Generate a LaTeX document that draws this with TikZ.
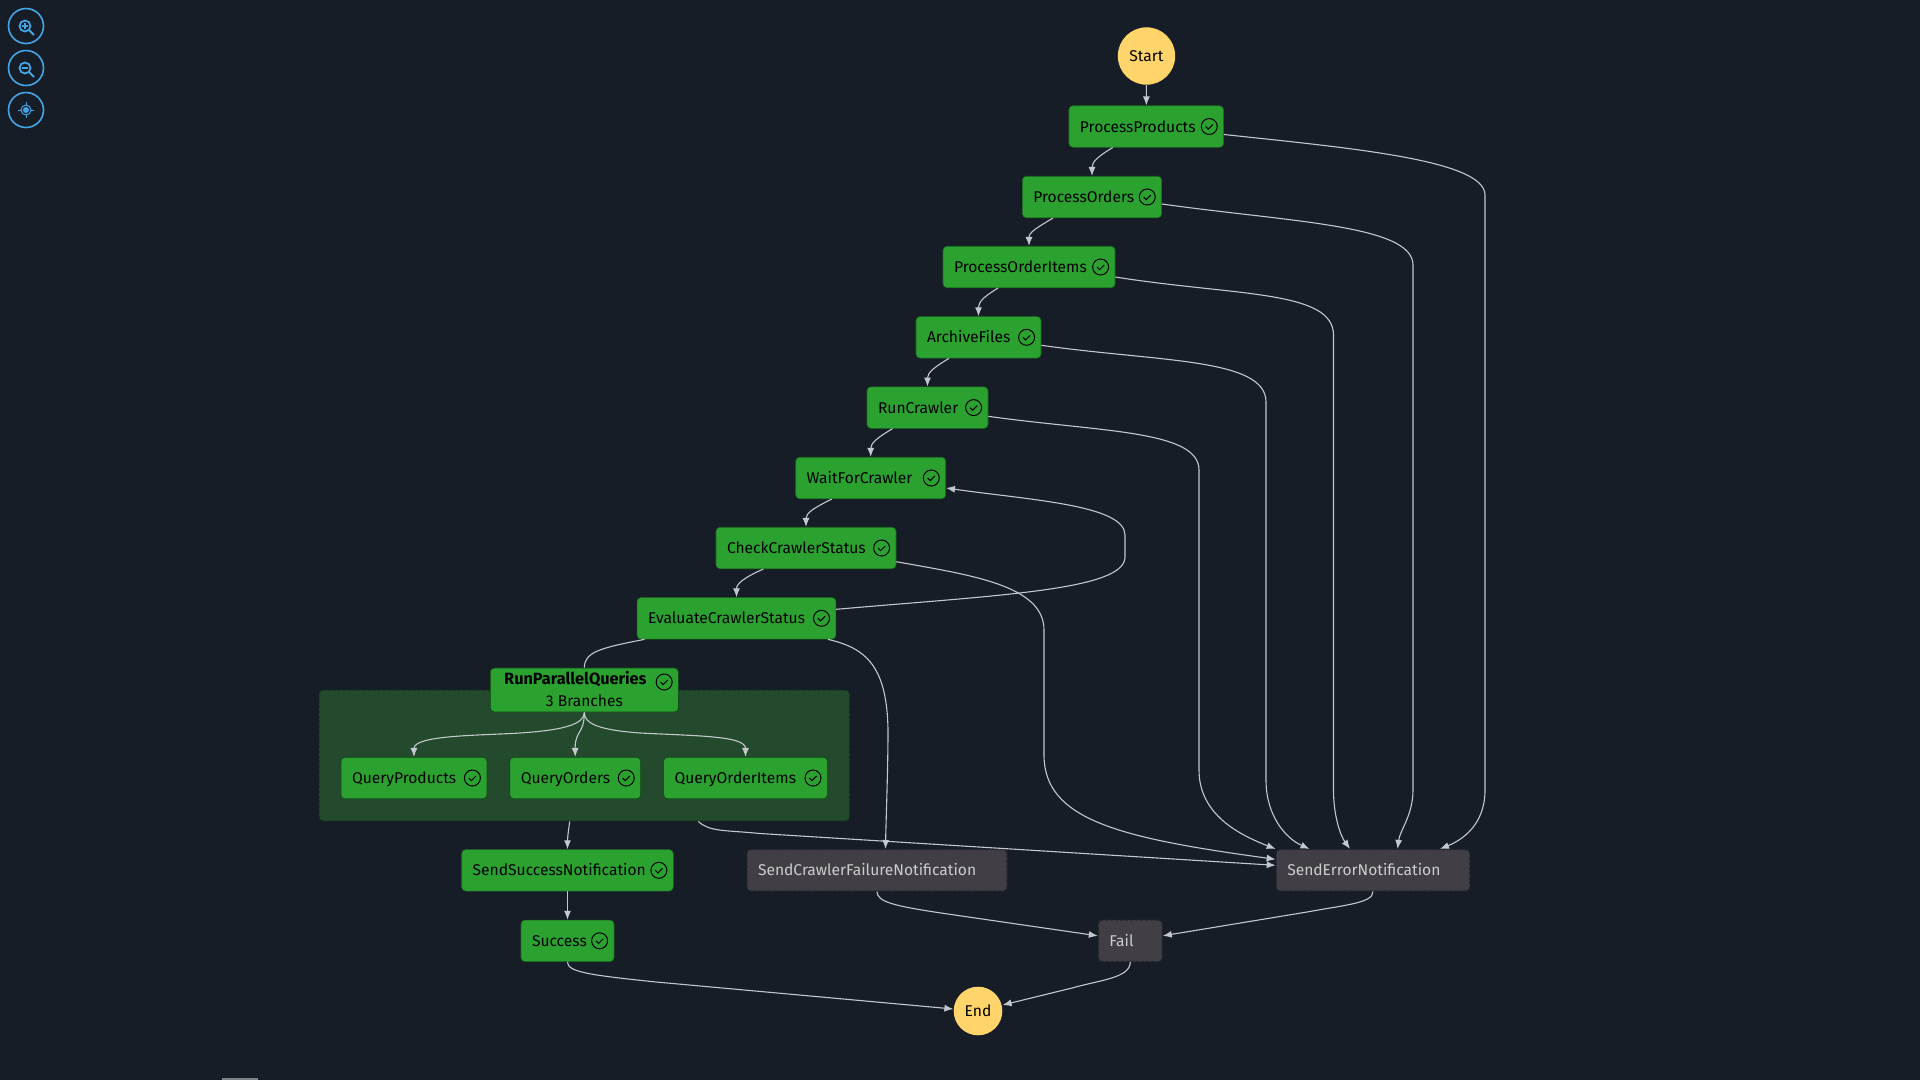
\documentclass[tikz,border=0pt]{standalone}
\usepackage{fontspec}
\setmainfont{Fira Sans}
\usepackage{xcolor}
\usetikzlibrary{arrows.meta,calc}
\definecolor{canvasbg}{HTML}{161D26}
\definecolor{okgreen}{HTML}{2BA12F}
\definecolor{okedge}{HTML}{1B6B22}
\definecolor{groupgreen}{HTML}{234A2C}
\definecolor{idlegrey}{HTML}{413F45}
\definecolor{startyellow}{HTML}{FFD56B}
\definecolor{linkgrey}{HTML}{C4C8CE}
\definecolor{toolblue}{HTML}{44A6E8}
\tikzset{
	statetext/.style={font=\fontsize{15.6}{20}\selectfont,text height=13pt,text depth=2pt},
	okstate/.style={statetext,rectangle,rounded corners=4pt,fill=okgreen,draw=okedge,line width=.6pt,text=black,
		minimum width=#1pt,minimum height=41.5pt,inner xsep=0pt,text width=#1pt-22pt,align=left,
		path picture={
			\draw[sharp corners,black,line width=1pt] ([xshift=-14.4pt]path picture bounding box.east) circle (8pt);
			\draw[sharp corners,black,line width=1pt] ([xshift=-18pt]path picture bounding box.east) -- ++(2.6,2.6) -- ++(4.6,-4.6);
		}},
	idlestate/.style={statetext,rectangle,rounded corners=4pt,fill=idlegrey,draw=canvasbg!70!idlegrey,dash pattern=on 3pt off 2pt,line width=1.2pt,text=white!80!black,
		minimum width=#1pt,minimum height=41.5pt,inner xsep=0pt,text width=#1pt-22pt,align=left},
	endpoint/.style={statetext,circle,fill=startyellow,text=black,inner sep=0pt,minimum size=#1pt},
	toolbtn/.style={circle,draw=toolblue,line width=1.6pt,minimum size=35pt,inner sep=0pt},
	toolmark/.style={draw=toolblue,line width=1.8pt}
}
\begin{document}
\begin{tikzpicture}[x=1pt,y=-1pt,>={Latex[length=9pt,width=7pt]},semithick,link/.style={draw=linkgrey,line width=1.1pt}]
	\fill[canvasbg] (0,0) rectangle (1920,1080);
	\fill[white!45!canvasbg] (222,1078) rectangle (258,1080);

	% zoom buttons
	\node[toolbtn] (zoomin) at (26,26) {};
	\node[toolbtn] (zoomout) at (26,68) {};
	\node[toolbtn] (recenter) at (26,110) {};
	\draw[toolmark] ([xshift=-1pt]zoomin.center) circle (5.5pt);
	\draw[toolmark] ([xshift=3pt,yshift=-4pt]zoomin.center) -- ++(5,5);
	\draw[toolmark,line width=1.3pt] ([xshift=-4pt]zoomin.center) -- ++(6,0);
	\draw[toolmark,line width=1.3pt] ([xshift=-1pt,yshift=3pt]zoomin.center) -- ++(0,6);
	\draw[toolmark] ([xshift=-1pt]zoomout.center) circle (5.5pt);
	\draw[toolmark] ([xshift=3pt,yshift=-4pt]zoomout.center) -- ++(5,5);
	\draw[toolmark,line width=1.3pt] ([xshift=-4pt]zoomout.center) -- ++(6,0);
	\draw[toolmark,line width=1pt] (recenter.center) circle (5pt);
	\fill[toolblue] (recenter.center) circle (3pt);
	\draw[toolmark,line width=1pt] ([xshift=-8pt]recenter.center) -- ++(3,0);
	\draw[toolmark,line width=1pt] ([xshift=5pt]recenter.center) -- ++(3,0);
	\draw[toolmark,line width=1pt] ([yshift=8pt]recenter.center) -- ++(0,3);
	\draw[toolmark,line width=1pt] ([yshift=-5pt]recenter.center) -- ++(0,3);

	% states
	\node[endpoint=57.4] (start) at (1146.5,56) {Start};
	\node[okstate=154.7] (pp) at (1146.3,126.5) {ProcessProducts};
	\node[okstate=139.3] (po) at (1092,197) {ProcessOrders};
	\node[okstate=172] (poi) at (1029,267) {ProcessOrderItems};
	\node[okstate=125] (af) at (978.5,337.3) {ArchiveFiles};
	\node[okstate=121] (rc) at (927.5,407.6) {RunCrawler};
	\node[okstate=150] (wfc) at (870.7,478) {WaitForCrawler};
	\node[okstate=180] (ccs) at (806,548) {CheckCrawlerStatus};
	\node[okstate=198.8] (ecs) at (736.5,618.3) {EvaluateCrawlerStatus};

	% parallel block
	\node[rectangle,rounded corners=4pt,fill=groupgreen,draw=groupgreen!60!black,dash pattern=on 3pt off 2pt,line width=1pt,minimum width=530.6pt,minimum height=131pt] (grp) at (584.3,755.5) {};
	\node[rectangle,rounded corners=4pt,fill=okgreen,draw=okedge!70!black,line width=.8pt,text=black,font=\fontsize{15.6}{22}\selectfont,
		minimum width=188.3pt,minimum height=44pt,inner sep=0pt,align=center,text depth=3pt,
		path picture={
			\draw[sharp corners,black,line width=1pt] ([xshift=-14.4pt,yshift=8pt]path picture bounding box.east) circle (8pt);
			\draw[sharp corners,black,line width=1pt] ([xshift=-18pt,yshift=8pt]path picture bounding box.east) -- ++(2.6,2.6) -- ++(4.6,-4.6);
		}] (rpq) at (584.4,690) {\fontsize{16.3}{22}\selectfont\textbf{RunParallelQueries}\hspace*{18pt}\\\fontsize{15.6}{22}\selectfont 3 Branches};
	\node[okstate=145.8,draw=okedge!70!black] (qp) at (413.9,778) {QueryProducts};
	\node[okstate=130.9,draw=okedge!70!black] (qo) at (575.2,778) {QueryOrders};
	\node[okstate=163.8,draw=okedge!70!black] (qoi) at (745.5,778) {QueryOrderItems};

	\node[okstate=211.6] (ssn) at (567.5,870.3) {SendSuccessNotification};
	\node[okstate=93] (ok) at (567.5,940.8) {Success};
	\node[idlestate=260] (scf) at (877,870.3) {SendCrawlerFailureNotification};
	\node[idlestate=193.5] (sen) at (1373,870.3) {SendErrorNotification};
	\node[idlestate=63.8] (fail) at (1130.3,940.8) {Fail};
	\node[endpoint=48.6] (finish) at (978,1011) {End};

	% main chain
	\draw[->,link] (start) -- (pp);
	\draw[->,link] ([xshift=-33.6pt]pp.south) .. controls +(-15,9) and +(0,-14) .. (po.north);
	\draw[->,link] ([xshift=-39pt]po.south) .. controls +(-15,9) and +(0,-14) .. (poi.north);
	\draw[->,link] ([xshift=-31pt]poi.south) .. controls +(-15,9) and +(0,-14) .. (af.north);
	\draw[->,link] ([xshift=-29.5pt]af.south) .. controls +(-15,9) and +(0,-14) .. (rc.north);
	\draw[->,link] ([xshift=-35pt]rc.south) .. controls +(-15,9) and +(0,-14) .. (wfc.north);
	\draw[->,link] ([xshift=-39pt]wfc.south) .. controls +(-18,9) and +(0,-14) .. (ccs.north);
	\draw[->,link] ([xshift=-42.7pt]ccs.south) .. controls +(-18,8) and +(0,-14) .. (ecs.north);
	\draw[link] ([xshift=-92pt]ecs.south) .. controls (600,648) and (584.4,652) .. (rpq.north);

	% retry loop
	\draw[->,link] ([yshift=9pt]ecs.east) .. controls (1000,595) and (1125,590) .. (1125,557) -- (1125,535) .. controls (1125,505) and (1030,500) .. ([yshift=-10pt]wfc.east);

	% branches
	\draw[->,link] (rpq.south) .. controls (584,724) and (565,730) .. (520,733) .. controls (480,735.5) and (414,735) .. (qp.north);
	\draw[->,link] (rpq.south) .. controls (584,735) and (575,730) .. (qo.north);
	\draw[->,link] (rpq.south) .. controls (584,724) and (600,730) .. (640,733) .. controls (700,736) and (745.5,736) .. (qoi.north);
	\draw[->,link] ([xshift=-14.5pt]grp.south) .. controls (568,832) and (567.5,840) .. (ssn.north);
	\draw[->,link] (ssn) -- (ok);

	% errors
	\draw[->,link] ([yshift=-8pt]pp.east) .. controls (1350,148) and (1485,160) .. (1485,195) -- (1485,790) .. controls (1485,825) and (1462,840) .. ([xshift=67pt]sen.north);
	\draw[->,link] ([yshift=-7pt]po.east) .. controls (1290,222) and (1413,225) .. (1413,265) -- (1413,790) .. controls (1413,815) and (1400,830) .. ([xshift=24.5pt]sen.north);
	\draw[->,link] ([yshift=-10pt]poi.east) .. controls (1235,296) and (1333.5,290) .. (1333.5,335) -- (1333.5,790) .. controls (1333.5,815) and (1340,835) .. ([xshift=-23pt]sen.north);
	\draw[->,link] ([yshift=-8pt]af.east) .. controls (1160,362) and (1266,358) .. (1266,402) -- (1266,780) .. controls (1266,815) and (1285,838) .. ([xshift=-63.5pt]sen.north);
	\draw[->,link] ([yshift=-8.7pt]rc.east) .. controls (1100,432) and (1199,430) .. (1199,470) -- (1199,770) .. controls (1199,815) and (1240,835) .. (sen.north west);
	\draw[->,link] ([yshift=-13.7pt]ccs.east) .. controls (970,575) and (1044,585) .. (1044,630) -- (1044,755) .. controls (1044,820) and (1120,838) .. ([yshift=11pt]sen.west);
	\draw[->,link] ([xshift=114pt]grp.south) .. controls (710,832) and (725,830) .. (760,833.5) -- ([yshift=5pt]sen.west);
	\draw[->,link] ([xshift=91.5pt]ecs.south) .. controls (865,648) and (887,665) .. (888,730) .. controls (888,770) and (886,820) .. ([xshift=8.5pt]scf.north);

	% ends
	\draw[->,link] (scf.south) .. controls (877,902) and (895,906) .. (941,913) -- ([yshift=5pt]fail.west);
	\draw[->,link] (sen.south) .. controls (1373,903) and (1345,905) .. (1307,912) -- ([yshift=5pt]fail.east);
	\draw[->,link] (fail.south) .. controls (1130,978) and (1100,980) .. (1072,988) -- ([yshift=6pt]finish.east);
	\draw[->,link] (ok.south) .. controls (567,972) and (590,975) .. (653,981.7) -- ([yshift=2pt]finish.west);
\end{tikzpicture}
\end{document}
